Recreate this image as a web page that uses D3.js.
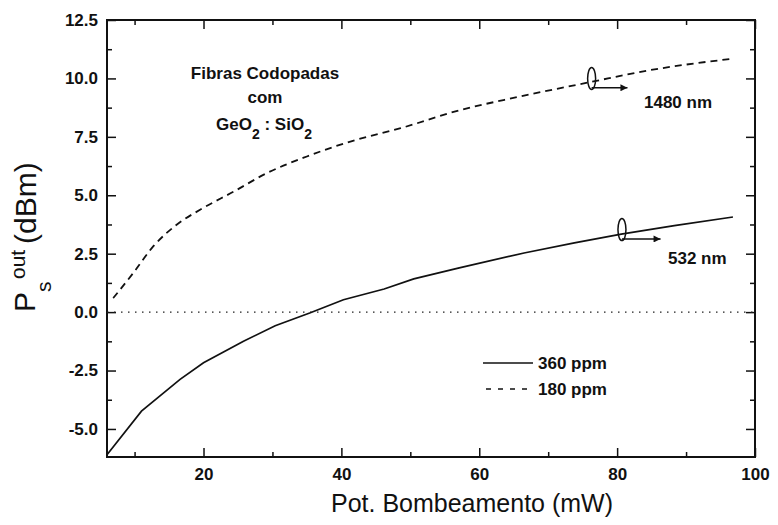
<!DOCTYPE html>
<html>
<head>
<meta charset="utf-8">
<script src="https://cdn.jsdelivr.net/npm/d3@7"></script>
<style>
  body { margin: 0; background: #fff; }
  svg { display: block; font-family: "Liberation Sans", Arial, sans-serif; }
  .tick text { font-weight: bold; font-size: 17px; fill: #111; }
  .tick line { stroke: #111; stroke-width: 1.5; }
</style>
</head>
<body>
<div id="chart"></div>
<script>
// valores
const x360 = [6, 11, 16.6, 20, 25.8, 30.4, 35.5, 40.3, 46.2, 50.5, 57.1, 66.5, 73.8, 80.6, 88.3, 96.8];
const y360 = [-6.1, -4.24, -2.88, -2.17, -1.25, -0.58, -0.03, 0.53, 0.99, 1.42, 1.89, 2.53, 2.96, 3.34, 3.7, 4.07];
const x180 = [6.9, 9.8, 12.7, 16.1, 19.5, 24.4, 29.2, 35, 41.3, 48.6, 57.3, 65.5, 76.2, 84.9, 96.3];
const y180 = [0.6, 1.67, 2.81, 3.74, 4.38, 5.16, 5.95, 6.66, 7.3, 7.87, 8.65, 9.2, 9.85, 10.36, 10.83];
const xTicks = [20, 40, 60, 80, 100];
const xMinor = [10, 30, 50, 70, 90];
const yTicks = [-5, -2.5, 0, 2.5, 5, 7.5, 10, 12.5];
const yMinor = [-3.75, -1.25, 1.25, 3.75, 6.25, 8.75, 11.25];
const seriesNames = ["360 ppm", "180 ppm"];

const width = 778, height = 525;
const margin = { top: 20, right: 23, bottom: 68, left: 107 };

const svg = d3.select("#chart").append("svg")
  .attr("width", width)
  .attr("height", height);

const x = d3.scaleLinear().domain([6, 100]).range([margin.left, width - margin.right]);
const y = d3.scaleLinear().domain([-6.2, 12.5]).range([height - margin.bottom, margin.top]);

const clean = g => g.select(".domain").remove();
// hífen simples no lugar do sinal de menos
const fmtY = d => d3.format(".1f")(d).replace("\u2212", "-");

// eixos (ticks para dentro)
svg.append("g")
  .attr("transform", `translate(0,${y.range()[0]})`)
  .call(d3.axisBottom(x).tickValues(xTicks).tickSize(-9).tickPadding(11).tickFormat(d3.format("d")))
  .call(clean);
svg.append("g")
  .attr("transform", `translate(0,${y.range()[0]})`)
  .call(d3.axisBottom(x).tickValues(xMinor).tickSize(-5).tickFormat(""))
  .call(clean);
svg.append("g")
  .attr("transform", `translate(0,${y.range()[1]})`)
  .call(d3.axisTop(x).tickValues(xTicks).tickSize(-9).tickFormat(""))
  .call(clean);
svg.append("g")
  .attr("transform", `translate(0,${y.range()[1]})`)
  .call(d3.axisTop(x).tickValues(xMinor).tickSize(-5).tickFormat(""))
  .call(clean);

svg.append("g")
  .attr("transform", `translate(${x.range()[0]},0)`)
  .call(d3.axisLeft(y).tickValues(yTicks).tickSize(-9).tickPadding(9).tickFormat(fmtY))
  .call(clean);
svg.append("g")
  .attr("transform", `translate(${x.range()[0]},0)`)
  .call(d3.axisLeft(y).tickValues(yMinor).tickSize(-5).tickFormat(""))
  .call(clean);
svg.append("g")
  .attr("transform", `translate(${x.range()[1]},0)`)
  .call(d3.axisRight(y).tickValues(yTicks).tickSize(-9).tickFormat(""))
  .call(clean);
svg.append("g")
  .attr("transform", `translate(${x.range()[1]},0)`)
  .call(d3.axisRight(y).tickValues(yMinor).tickSize(-5).tickFormat(""))
  .call(clean);

// moldura
svg.append("rect")
  .attr("x", x.range()[0])
  .attr("y", y.range()[1])
  .attr("width", x.range()[1] - x.range()[0])
  .attr("height", y.range()[0] - y.range()[1])
  .attr("fill", "none")
  .attr("stroke", "#111")
  .attr("stroke-width", 2);

// linha pontilhada em zero
svg.append("line")
  .attr("x1", x(6)).attr("x2", x(100))
  .attr("y1", y(0)).attr("y2", y(0))
  .attr("stroke", "#222")
  .attr("stroke-width", 1.3)
  .attr("stroke-dasharray", "1.5,5.5");

const line = d3.line().x(d => x(d[0])).y(d => y(d[1]));

svg.append("path")
  .datum(d3.zip(x360, y360))
  .attr("d", line)
  .attr("fill", "none")
  .attr("stroke", "#111")
  .attr("stroke-width", 1.7);

svg.append("path")
  .datum(d3.zip(x180, y180))
  .attr("d", line.curve(d3.curveMonotoneX))
  .attr("fill", "none")
  .attr("stroke", "#111")
  .attr("stroke-width", 1.8)
  .attr("stroke-dasharray", "7,5");

// marcadores (elipse + seta)
svg.append("defs").append("marker")
  .attr("id", "arrow")
  .attr("viewBox", "0 0 10 10")
  .attr("refX", 10).attr("refY", 5)
  .attr("markerWidth", 12).attr("markerHeight", 7)
  .attr("markerUnits", "userSpaceOnUse")
  .attr("orient", "auto")
  .append("path")
  .attr("d", "M0,0L10,5L0,10Z")
  .attr("fill", "#111");

const notes = [
  { cx: 76.3, cy: 10.0, ay: 9.6, ax2: 81.5, label: "1480 nm", lx: 644, ly: 108 },
  { cx: 80.7, cy: 3.53, ay: 3.13, ax2: 86.3, label: "532 nm", lx: 668, ly: 264 }
];
notes.forEach(n => {
  svg.append("ellipse")
    .attr("cx", x(n.cx)).attr("cy", y(n.cy))
    .attr("rx", 4).attr("ry", 11)
    .attr("fill", "none")
    .attr("stroke", "#111")
    .attr("stroke-width", 1.5);
  svg.append("line")
    .attr("x1", x(n.cx)).attr("x2", x(n.ax2))
    .attr("y1", y(n.ay)).attr("y2", y(n.ay))
    .attr("stroke", "#111")
    .attr("stroke-width", 1.5)
    .attr("marker-end", "url(#arrow)");
  svg.append("text")
    .attr("x", n.lx).attr("y", n.ly)
    .attr("font-size", 17).attr("font-weight", "bold")
    .attr("fill", "#111")
    .text(n.label);
});

// texto
const info = svg.append("g")
  .attr("font-size", 17)
  .attr("font-weight", "bold")
  .attr("fill", "#111")
  .attr("text-anchor", "middle");
info.append("text").attr("x", 265).attr("y", 79).text("Fibras Codopadas");
info.append("text").attr("x", 265).attr("y", 103).text("com");
const chem = info.append("text").attr("x", 264).attr("y", 130);
chem.append("tspan").text("GeO");
chem.append("tspan").attr("dy", 9).attr("font-size", 14).text("2");
chem.append("tspan").attr("dy", -9).text(" : SiO");
chem.append("tspan").attr("dy", 9).attr("font-size", 14).text("2");

// legenda
const legend = svg.append("g").attr("transform", "translate(483,363)");
seriesNames.forEach((name, i) => {
  legend.append("line")
    .attr("x1", i ? 3 : 0).attr("x2", i ? 44 : 50)
    .attr("y1", i * 26).attr("y2", i * 26)
    .attr("stroke", "#111")
    .attr("stroke-width", 1.3)
    .attr("stroke-dasharray", i ? "5,7" : null);
  legend.append("text")
    .attr("x", 55).attr("y", i * 26 + 6)
    .attr("font-size", 17).attr("font-weight", "bold")
    .attr("fill", "#111")
    .text(name);
});

// títulos dos eixos
svg.append("text")
  .attr("x", 472).attr("y", 512)
  .attr("text-anchor", "middle")
  .attr("font-size", 25)
  .attr("fill", "#111")
  .text("Pot. Bombeamento (mW)");

const yt = svg.append("g").attr("transform", "rotate(-90)").attr("fill", "#111");
yt.append("text").attr("x", -312).attr("y", 35).attr("font-size", 30).text("P");
yt.append("text").attr("x", -292).attr("y", 51).attr("font-size", 21).text("s");
yt.append("text").attr("x", -279).attr("y", 25).attr("font-size", 21).text("out");
yt.append("text").attr("x", -244).attr("y", 36).attr("font-size", 30).text("(dBm)");
</script>
</body>
</html>
